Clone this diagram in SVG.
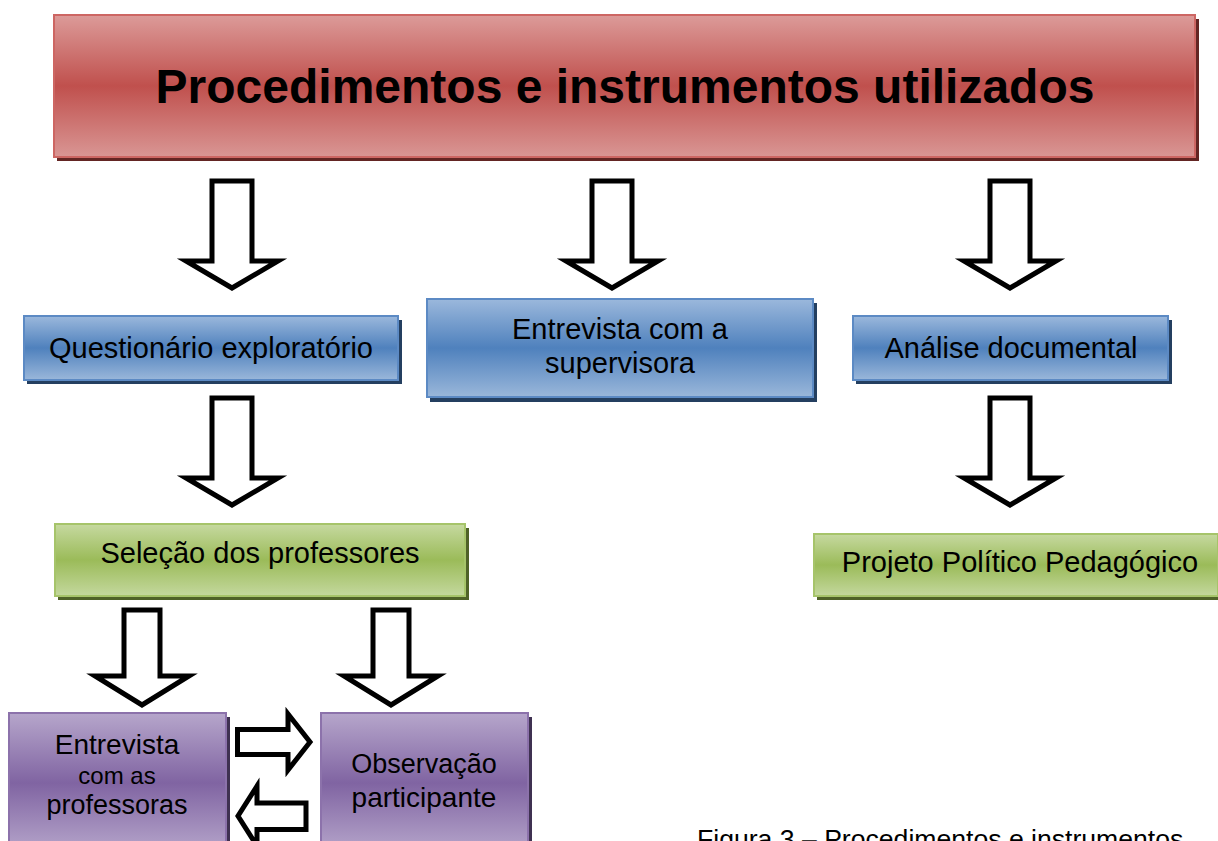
<svg xmlns="http://www.w3.org/2000/svg" width="1218" height="841" viewBox="0 0 1218 841">
<defs>
<linearGradient id="gRed" x1="0" y1="0" x2="0" y2="1">
<stop offset="0" stop-color="#dc9b99"/><stop offset="0.5" stop-color="#c0504d"/><stop offset="1" stop-color="#d99694"/>
</linearGradient>
<linearGradient id="gBlue" x1="0" y1="0" x2="0" y2="1">
<stop offset="0" stop-color="#9bb8dc"/><stop offset="0.5" stop-color="#4f81bd"/><stop offset="1" stop-color="#9ab7da"/>
</linearGradient>
<linearGradient id="gGreen" x1="0" y1="0" x2="0" y2="1">
<stop offset="0" stop-color="#c6d9a0"/><stop offset="0.5" stop-color="#9bbb59"/><stop offset="1" stop-color="#c4d89e"/>
</linearGradient>
<linearGradient id="gPurple" x1="0" y1="0" x2="0" y2="1">
<stop offset="0" stop-color="#b6a6cb"/><stop offset="0.5" stop-color="#8064a2"/><stop offset="1" stop-color="#b6a6cb"/>
</linearGradient>
<path id="darrL" d="M-20,0 H20 V80 H46 L0,107 L-46,80 H-20 Z"/>
<path id="darrS" d="M-18,0 H18 V66 H47 L0,95 L-47,66 H-18 Z"/>
<style>
.lbl{font-family:"Liberation Sans",Arial,sans-serif;fill:#000;text-anchor:middle}
.arr{fill:#fff;stroke:#000;stroke-width:5;stroke-miterlimit:10}
.red{fill:url(#gRed);stroke:#cd6663;stroke-width:2}
.blue{fill:url(#gBlue);stroke:#5c8ac4;stroke-width:2}
.green{fill:url(#gGreen);stroke:#a6c46a;stroke-width:2}
.purple{fill:url(#gPurple);stroke:#8c72ab;stroke-width:2}
</style>
</defs>
<rect width="1218" height="841" fill="#fff"/>

<g id="title">
<rect x="57" y="19" width="1142" height="142" fill="#632523"/>
<rect x="54" y="15" width="1141" height="142" class="red"/>
<text x="625" y="103" class="lbl" font-size="48" font-weight="bold">Procedimentos e instrumentos utilizados</text>
</g>

<g id="questionario">
<rect x="27" y="320" width="375" height="64" fill="#243f60"/>
<rect x="24" y="316" width="374" height="64" class="blue"/>
<text x="211" y="358" class="lbl" font-size="29">Questionário exploratório</text>
</g>

<g id="entrevista-supervisora">
<rect x="430" y="303" width="387" height="99" fill="#243f60"/>
<rect x="427" y="299" width="386" height="98" class="blue"/>
<text x="620" y="339" class="lbl" font-size="29">Entrevista com a</text>
<text x="620" y="373" class="lbl" font-size="29">supervisora</text>
</g>

<g id="analise">
<rect x="856" y="320" width="316" height="64" fill="#243f60"/>
<rect x="853" y="316" width="315" height="64" class="blue"/>
<text x="1011" y="358" class="lbl" font-size="29">Análise documental</text>
</g>

<g id="selecao">
<rect x="58" y="528" width="411" height="72" fill="#4f6228"/>
<rect x="55" y="524" width="410" height="72" class="green"/>
<text x="260" y="563" class="lbl" font-size="29">Seleção dos professores</text>
</g>

<g id="projeto">
<rect x="817" y="538" width="405" height="62" fill="#4f6228"/>
<rect x="814" y="534" width="404" height="62" class="green"/>
<text x="1020" y="572" class="lbl" font-size="29">Projeto Político Pedagógico</text>
</g>

<g id="entrevista-professoras">
<rect x="12" y="717" width="218" height="140" fill="#3f3151"/>
<rect x="9" y="713" width="217" height="140" class="purple"/>
<text x="117" y="754" class="lbl" font-size="28">Entrevista</text>
<text x="117" y="784" class="lbl" font-size="24">com as</text>
<text x="117" y="814" class="lbl" font-size="27">professoras</text>
</g>

<g id="observacao">
<rect x="324" y="717" width="208" height="140" fill="#3f3151"/>
<rect x="321" y="713" width="207" height="140" class="purple"/>
<text x="424" y="773" class="lbl" font-size="27">Observação</text>
<text x="424" y="807" class="lbl" font-size="28">participante</text>
</g>

<g id="connectors">
<use href="#darrL" x="232" y="181" class="arr"/>
<use href="#darrL" x="612" y="181" class="arr"/>
<use href="#darrL" x="1010" y="181" class="arr"/>
<use href="#darrL" x="232" y="398" class="arr"/>
<use href="#darrL" x="1010" y="398" class="arr"/>
<use href="#darrS" x="142" y="610" class="arr"/>
<use href="#darrS" x="391" y="610" class="arr"/>
<path class="arr" d="M237.5,729.5 H288 V714 L310,742 L288,770 V754.5 H237.5 Z"/>
<path class="arr" d="M306,803 H257 V786 L238,816 L257,846 V829.5 H306 Z"/>
</g>

<text x="697" y="848" font-family="Liberation Sans, Arial, sans-serif" font-size="26.6" fill="#000">Figura 3 – Procedimentos e instrumentos</text>
</svg>
